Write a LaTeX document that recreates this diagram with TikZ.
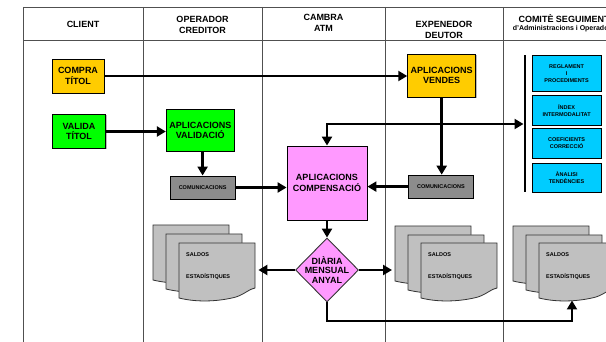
\documentclass[tikz,border=0pt]{standalone}
\usepackage{fontspec}
\setmainfont{Liberation Sans}
\usetikzlibrary{arrows.meta,shapes.geometric,shadows}
\definecolor{orng}{RGB}{255,204,0}
\definecolor{grn}{RGB}{0,255,0}
\definecolor{pnk}{RGB}{255,153,255}
\definecolor{cyn}{RGB}{0,204,255}
\definecolor{comg}{RGB}{140,140,140}
\definecolor{docg}{RGB}{192,192,192}
\definecolor{tline}{RGB}{80,80,80}
\tikzset{
  tbl/.style={draw=tline,line width=0.9pt},
  box/.style={draw=black,line width=0.9pt,inner sep=0pt,align=center,
    font=\bfseries\fontsize{9}{10.3}\selectfont,
    drop shadow={shadow xshift=1pt,shadow yshift=-1pt,fill=black!45,opacity=0.6}},
  smallbox/.style={draw=black,line width=0.9pt,inner sep=0pt,align=center,
    font=\bfseries\fontsize{5.5}{7}\selectfont},
  hdr/.style={align=center,inner sep=0pt,font=\bfseries\fontsize{9}{11}\selectfont},
  doctext/.style={anchor=west,inner sep=0pt,font=\bfseries\fontsize{5.5}{7}\selectfont},
  tip/.tip={Triangle[length=9pt,width=10pt]},
  arr/.style={line width=2.9pt,-tip},
  docframe/.style={minimum width=76,minimum height=45,inner sep=0pt,anchor=north west},
  docsheet/.pic={
    \filldraw[fill=docg,draw=black!80,line width=0.8pt]
      (0,0) -- (76,0) -- (76,45) .. controls (70,46) and (66,51) .. (57,54)
      .. controls (42,58) and (20,60) .. (0,55) -- cycle;
  }
}
\begin{document}
\begin{tikzpicture}[x=1pt,y=-1pt]
\useasboundingbox (0,0) rectangle (606,342);
% table
\draw[tbl] (23,7) -- (612,7);
\draw[tbl] (23,40) -- (612,40);
\foreach \cx in {23,143,262,385,503} { \draw[tbl] (\cx,7) -- (\cx,345); }
% headers
\node[hdr] (h1) at (83,24) {CLIENT};
\node[hdr] (h2) at (202.5,24.5) {OPERADOR\\CREDITOR};
\node[hdr] (h3) at (323.5,22.5) {CAMBRA\\ATM};
\node[hdr] (h4) at (444,30) {EXPENEDOR\\DEUTOR};
\node[hdr] (h5) at (564,18.5) {COMITÈ SEGUIMENT};
\node[inner sep=0pt,font=\bfseries\fontsize{7}{8}\selectfont] (h5b) at (564,28.5) {d'Administracions i Operadors};
% boxes
\node[box,fill=orng,minimum width=52,minimum height=34] (compra) at (78,76) {COMPRA\\TÍTOL};
\node[box,fill=grn,minimum width=53,minimum height=34] (valida) at (79,131.5) {VALIDA\\TÍTOL};
\node[box,fill=grn,minimum width=68,minimum height=42] (validacio) at (200.3,130.3) {APLICACIONS\\VALIDACIÓ};
\node[box,fill=orng,minimum width=68,minimum height=43] (vendes) at (441.7,75.7) {APLICACIONS\\VENDES};
\node[smallbox,fill=comg,minimum width=65,minimum height=23] (comsL) at (202.6,187.5) {COMUNICACIONS};
\node[smallbox,fill=comg,minimum width=65,minimum height=23] (comsR) at (441,186.6) {COMUNICACIONS};
\node[box,fill=pnk,minimum width=80,minimum height=74] (pink) at (327,183) {APLICACIONS\\COMPENSACIÓ};
\node[diamond,draw=black!80,line width=0.9pt,fill=pnk,minimum width=63,minimum height=64,inner sep=0pt] (dia) at (327,270) {};
\node[align=center,inner sep=0pt,font=\bfseries\fontsize{9}{9.5}\selectfont] (diatxt) at (dia.center) {DIÀRIA\\MENSUAL\\ANYAL};
% blue boxes
\node[smallbox,fill=cyn,minimum width=69,minimum height=36] (b1) at (566.6,73.8) {REGLAMENT\\I\\PROCEDIMENTS};
\node[smallbox,fill=cyn,minimum width=69,minimum height=30] (b2) at (566.6,110.5) {ÍNDEX\\INTERMODALITAT};
\node[smallbox,fill=cyn,minimum width=69,minimum height=29.5] (b3) at (566.6,143.6) {COEFICIENTS\\CORRECCIÓ};
\node[smallbox,fill=cyn,minimum width=69,minimum height=29.5] (b4) at (566.6,178) {ÀNALISI\\TENDÈNCIES};
\coordinate (barT) at (525,55.5);
\coordinate (barB) at (525,192);
\draw[line width=2.9pt] (barT) -- (barB);
% document stacks
\pic at (153,225) {docsheet};
\pic at (166,234) {docsheet};
\pic at (179,243) {docsheet};
\node[docframe] (docL) at (179,243) {};
\node[doctext] (sL1) at (186,255) {SALDOS};
\node[doctext] (sL2) at (186,277) {ESTADÍSTIQUES};
\pic at (395,226) {docsheet};
\pic at (408,235) {docsheet};
\pic at (421,243) {docsheet};
\node[docframe] (docM) at (395,226) {};
\node[doctext] (sM1) at (428,255) {SALDOS};
\node[doctext] (sM2) at (428,277) {ESTADÍSTIQUES};
\pic at (513,226) {docsheet};
\pic at (526,235) {docsheet};
\pic at (539,243) {docsheet};
\node[doctext] (sR1) at (546,255) {SALDOS};
\node[doctext] (sR2) at (546,277) {ESTADÍSTIQUES};
\coordinate (docRb) at (572,300.5);
\coordinate (loopY) at (0,321);
% connectors
\draw[arr] (compra.east) -- (compra.east -| vendes.west);
\draw[arr] (valida.east) -- (valida.east -| validacio.west);
\draw[arr] (comsL.north |- validacio.south) -- (comsL.north);
\draw[arr] (vendes.south) -- (vendes.south |- comsR.north);
\draw[arr] (comsL.east) -- (comsL.east -| pink.west);
\draw[arr] (comsR.west) -- (comsR.west -| pink.east);
\draw[arr] (pink.south) -- (dia.north);
\coordinate (tee) at (327,124);
\draw[line width=2.9pt,tip-tip,shorten >=1.5pt] (pink.north) -- (tee) -- (tee -| barT);
\draw[arr,shorten >=3pt] (dia.west) -- (dia.west -| docL.east);
\draw[arr,shorten >=3pt] (dia.east) -- (dia.east -| docM.west);
\draw[arr] (dia.south) |- (docRb |- loopY) -- (docRb);
\end{tikzpicture}
\end{document}
